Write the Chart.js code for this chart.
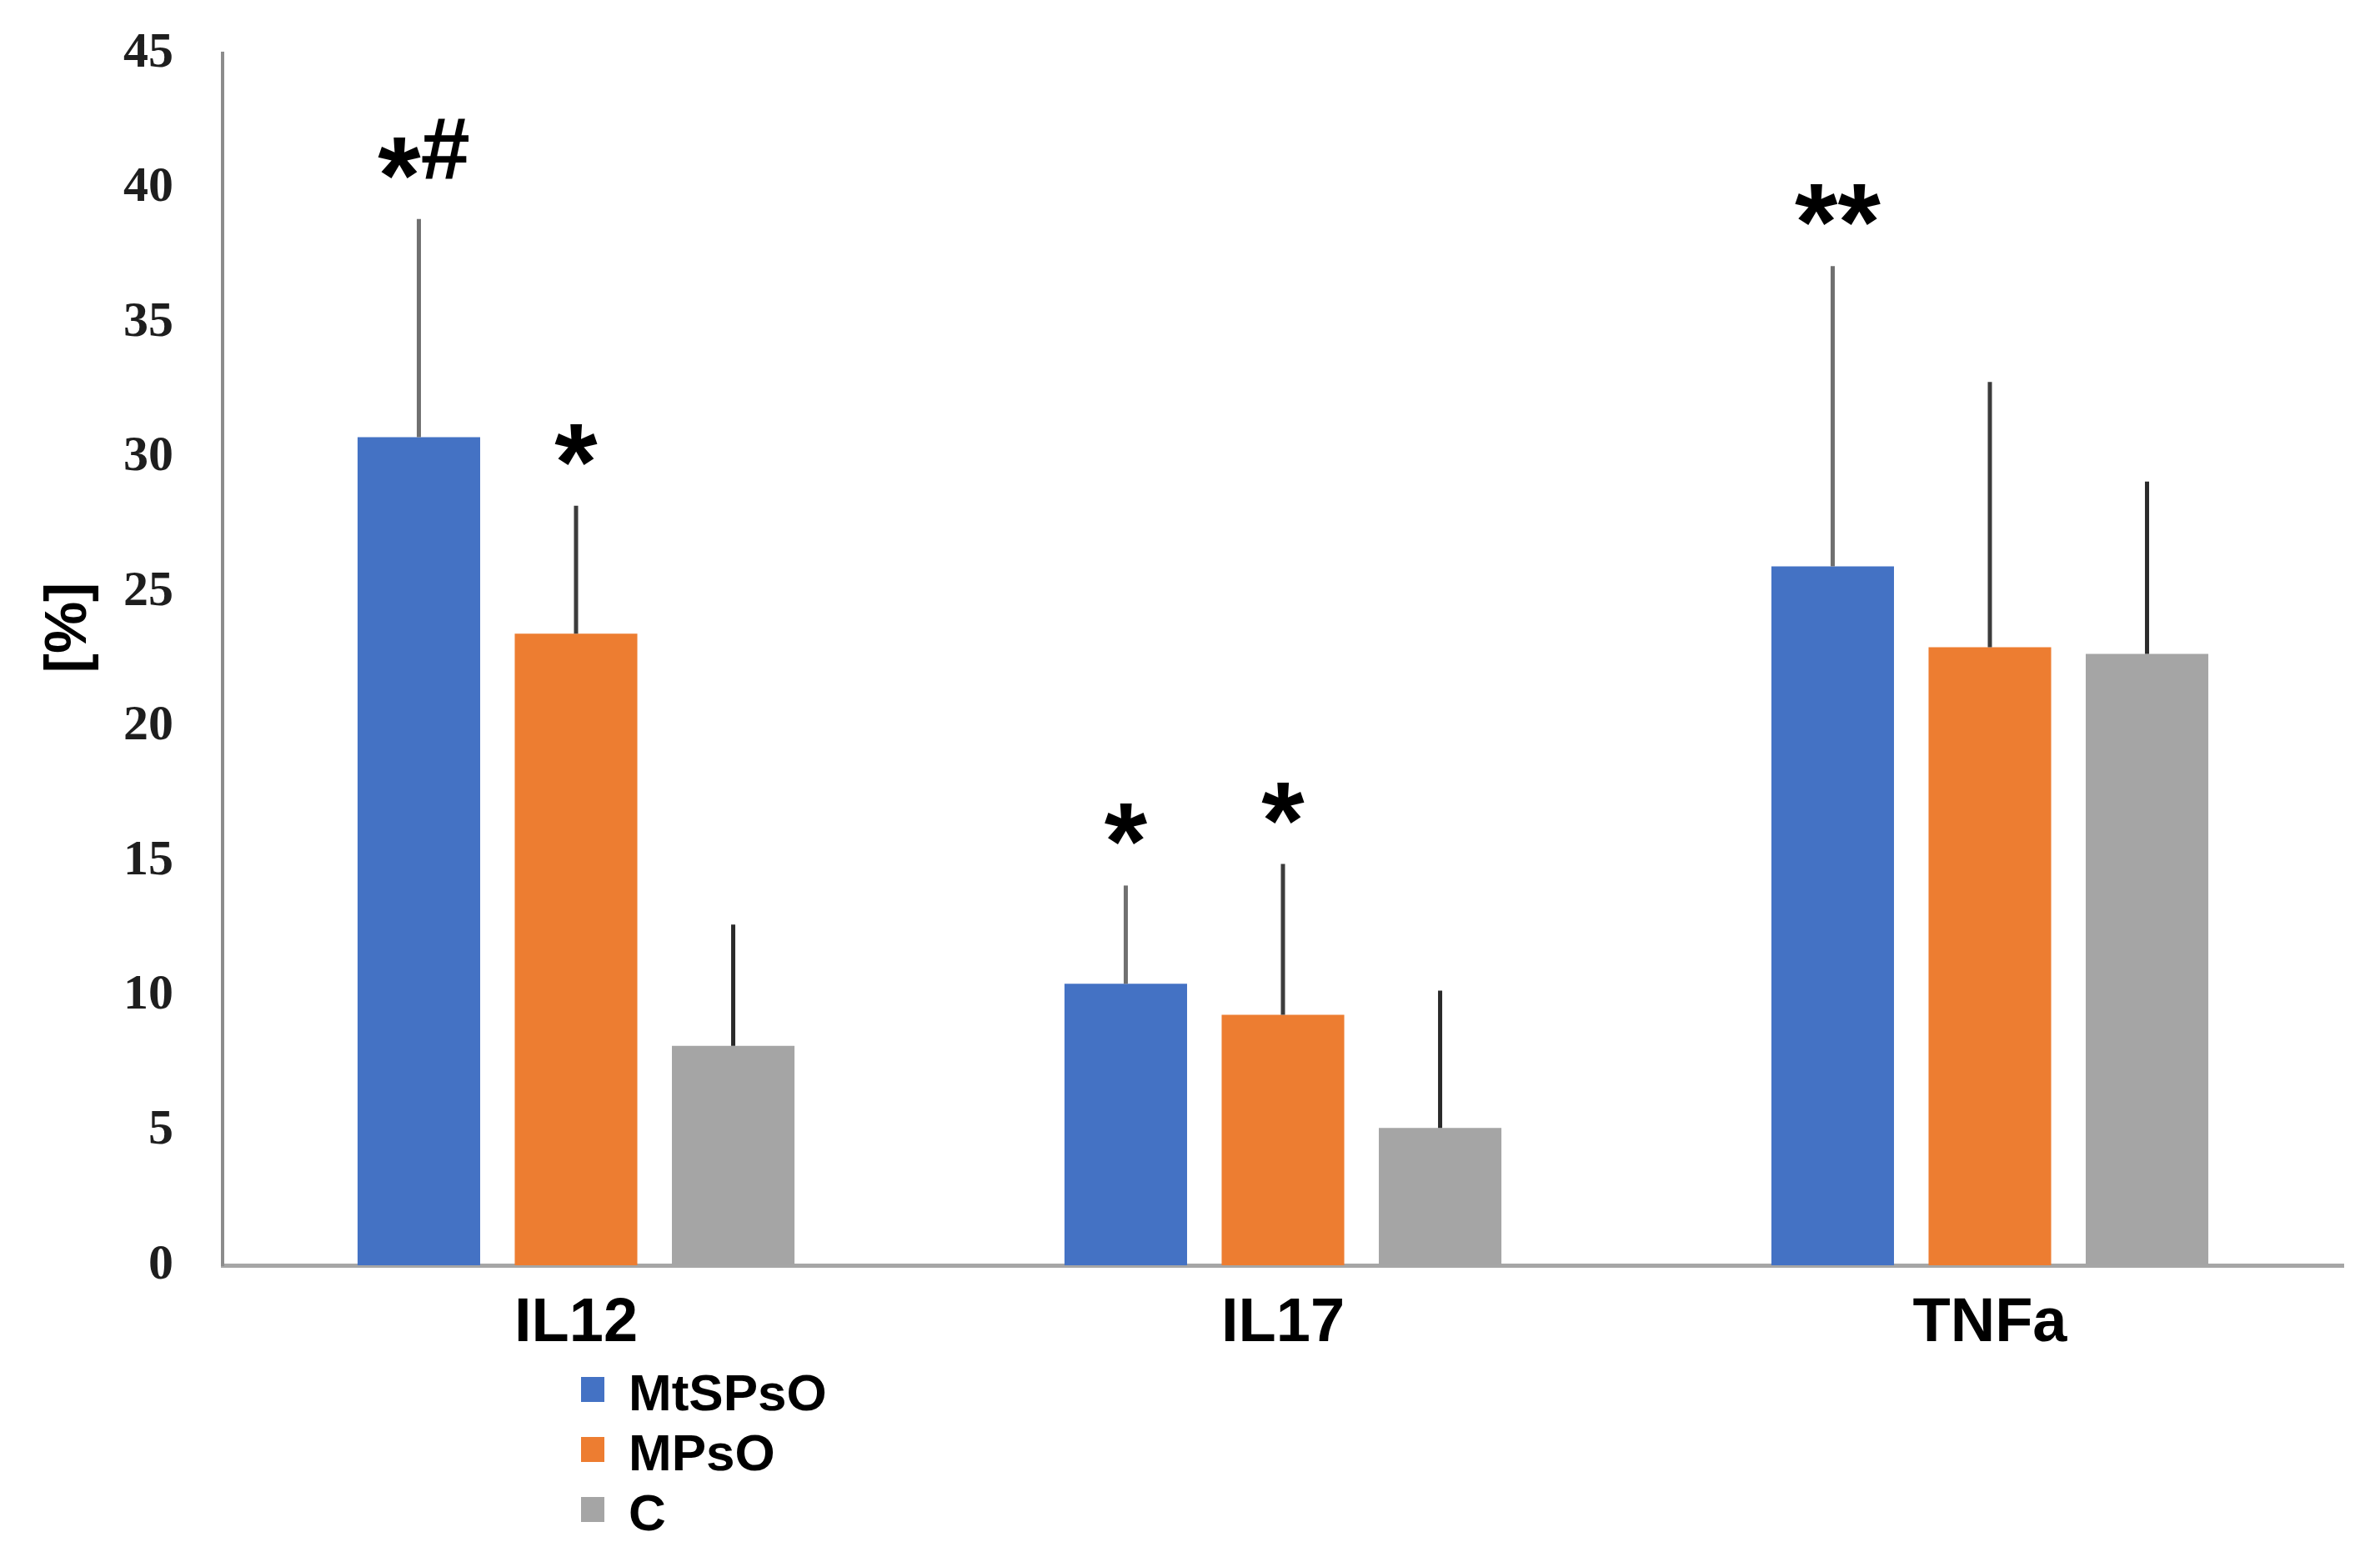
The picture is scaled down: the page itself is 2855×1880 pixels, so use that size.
<!DOCTYPE html>
<html>
<head>
<meta charset="utf-8">
<title>Cytokines</title>
<script src="https://cdn.jsdelivr.net/npm/chart.js@4.4.1/dist/chart.umd.min.js"></script>
<style>
    html, body { margin: 0; padding: 0; background: #ffffff; }
    #wrap { width: 2855px; height: 1880px; position: relative; }
</style>
</head>
<body>
<div id="wrap"><canvas id="cytokineChart"></canvas></div>
<script>
// Categories and groups
const categories = ['IL12', 'IL17', 'TNFa'];
const seriesNames = ['MtSPsO', 'MPsO', 'C'];

// Mean values [%]
const mtspsoMean = [30.75, 10.45, 25.95];
const mpsoMean = [23.45, 9.3, 22.95];
const controlMean = [8.15, 5.1, 22.7];

// Upper error bars (SD) [%]
const mtspsoErr = [8.1, 3.65, 11.15];
const mpsoErr = [4.75, 5.6, 9.85];
const controlErr = [4.5, 5.1, 6.4];

// Y axis tick values
const yTicks = [0, 5, 10, 15, 20, 25, 30, 35, 40, 45];

// Significance marks: series index, category index, text
const markSeries = [0, 1, 0, 1, 0];
const markCategory = [0, 0, 1, 1, 2];
const markText = ['*#', '*', '*', '*', '**'];

const colors = {
    blue: '#4472C4',
    orange: '#ED7D31',
    gray: '#A5A5A5'
};

const sansBold = "bold {s}px 'Liberation Sans', Arial, sans-serif";
function sans(size) { return sansBold.replace('{s}', size); }

// Upper error bars, no caps
const errorBarPlugin = {
    id: 'errorBars',
    afterDatasetsDraw(chart) {
        const ctx = chart.ctx;
        const yScale = chart.scales.y;
        chart.data.datasets.forEach((ds, i) => {
            const meta = chart.getDatasetMeta(i);
            meta.data.forEach((bar, j) => {
                const top = yScale.getPixelForValue(ds.data[j] + ds.errors[j]);
                ctx.save();
                ctx.strokeStyle = ds.errorColor;
                ctx.lineWidth = 5;
                ctx.beginPath();
                ctx.moveTo(bar.x, bar.y);
                ctx.lineTo(bar.x, top);
                ctx.stroke();
                ctx.restore();
            });
        });
    }
};

// Asterisks / hashes above the error bars
const marksPlugin = {
    id: 'sigMarks',
    afterDatasetsDraw(chart) {
        const ctx = chart.ctx;
        const yScale = chart.scales.y;
        markText.forEach((text, k) => {
            const ds = chart.data.datasets[markSeries[k]];
            const c = markCategory[k];
            const bar = chart.getDatasetMeta(markSeries[k]).data[c];
            const bottom = yScale.getPixelForValue(ds.data[c] + ds.errors[c]) - 48;
            ctx.save();
            ctx.fillStyle = '#000';
            ctx.textAlign = 'left';
            ctx.textBaseline = 'alphabetic';
            const chars = text.split('');
            let total = 0;
            const widths = chars.map(ch => {
                ctx.font = sans(ch === '*' ? 132 : 106);
                const w = ctx.measureText(ch).width;
                total += w;
                return w;
            });
            let x = bar.x - total / 2 + (chars.length > 1 ? 6 : 0);
            chars.forEach((ch, n) => {
                ctx.font = sans(ch === '*' ? 132 : 106);
                const m = ctx.measureText(ch);
                ctx.fillText(ch, x, bottom - m.actualBoundingBoxDescent);
                x += widths[n];
            });
            ctx.restore();
        });
    }
};

// Vertical legend under the first category, plus the y axis title
const legendPlugin = {
    id: 'sideLegend',
    afterDraw(chart) {
        const ctx = chart.ctx;
        ctx.save();
        ctx.font = sans(62);
        ctx.textAlign = 'left';
        ctx.textBaseline = 'middle';
        chart.data.datasets.forEach((ds, i) => {
            const cy = 1667 + i * 72;
            ctx.fillStyle = ds.backgroundColor;
            ctx.fillRect(697, cy - 15, 28, 30);
            ctx.fillStyle = '#000';
            ctx.fillText(ds.label, 754, cy + 8);
        });

        ctx.translate(84, 753);
        ctx.rotate(-Math.PI / 2);
        ctx.textAlign = 'center';
        ctx.font = sans(70);
        ctx.fillText('[%]', 0, 0);
        ctx.restore();
    }
};

function initializeChart() {
    const canvas = document.getElementById('cytokineChart');
    new Chart(canvas, {
        type: 'bar',
        data: {
            labels: categories,
            datasets: [
                { label: seriesNames[0], data: mtspsoMean, errors: mtspsoErr, backgroundColor: colors.blue, errorColor: '#707070' },
                { label: seriesNames[1], data: mpsoMean, errors: mpsoErr, backgroundColor: colors.orange, errorColor: '#3c3c3c' },
                { label: seriesNames[2], data: controlMean, errors: controlErr, backgroundColor: colors.gray, errorColor: '#2a2a2a' }
            ]
        },
        options: {
            responsive: true,
            maintainAspectRatio: false,
            animation: false,
            devicePixelRatio: 1,
            layout: {
                padding: { top: 64, right: 44, bottom: 0, left: 0 }
            },
            datasets: {
                bar: {
                    barPercentage: 0.78,
                    categoryPercentage: 0.667,
                    borderWidth: 0
                }
            },
            plugins: {
                legend: { display: false },
                tooltip: { enabled: false }
            },
            scales: {
                x: {
                    grid: { display: false },
                    border: { color: '#a6a6a6', width: 5 },
                    ticks: {
                        color: '#000',
                        padding: 18,
                        font: { family: "'Liberation Sans', Arial, sans-serif", weight: 'bold', size: 74 }
                    },
                    afterFit(scale) {
                        scale.height = 362;
                        scale.paddingLeft = 0;
                        scale.paddingRight = 0;
                    }
                },
                y: {
                    min: 0,
                    max: 45,
                    grid: { display: false },
                    border: { color: '#8c8c8c', width: 4 },
                    afterBuildTicks(scale) {
                        scale.ticks = yTicks.map(v => ({ value: v }));
                    },
                    ticks: {
                        color: '#1e1e1e',
                        padding: 51,
                        font: { family: "'Liberation Serif', 'Times New Roman', serif", weight: 'bold', size: 60 }
                    },
                    afterFit(scale) {
                        scale.width = 267;
                        scale.paddingTop = 0;
                        scale.paddingBottom = 0;
                    }
                }
            }
        },
        plugins: [errorBarPlugin, marksPlugin, legendPlugin]
    });
}

document.addEventListener('DOMContentLoaded', initializeChart);
</script>
</body>
</html>
